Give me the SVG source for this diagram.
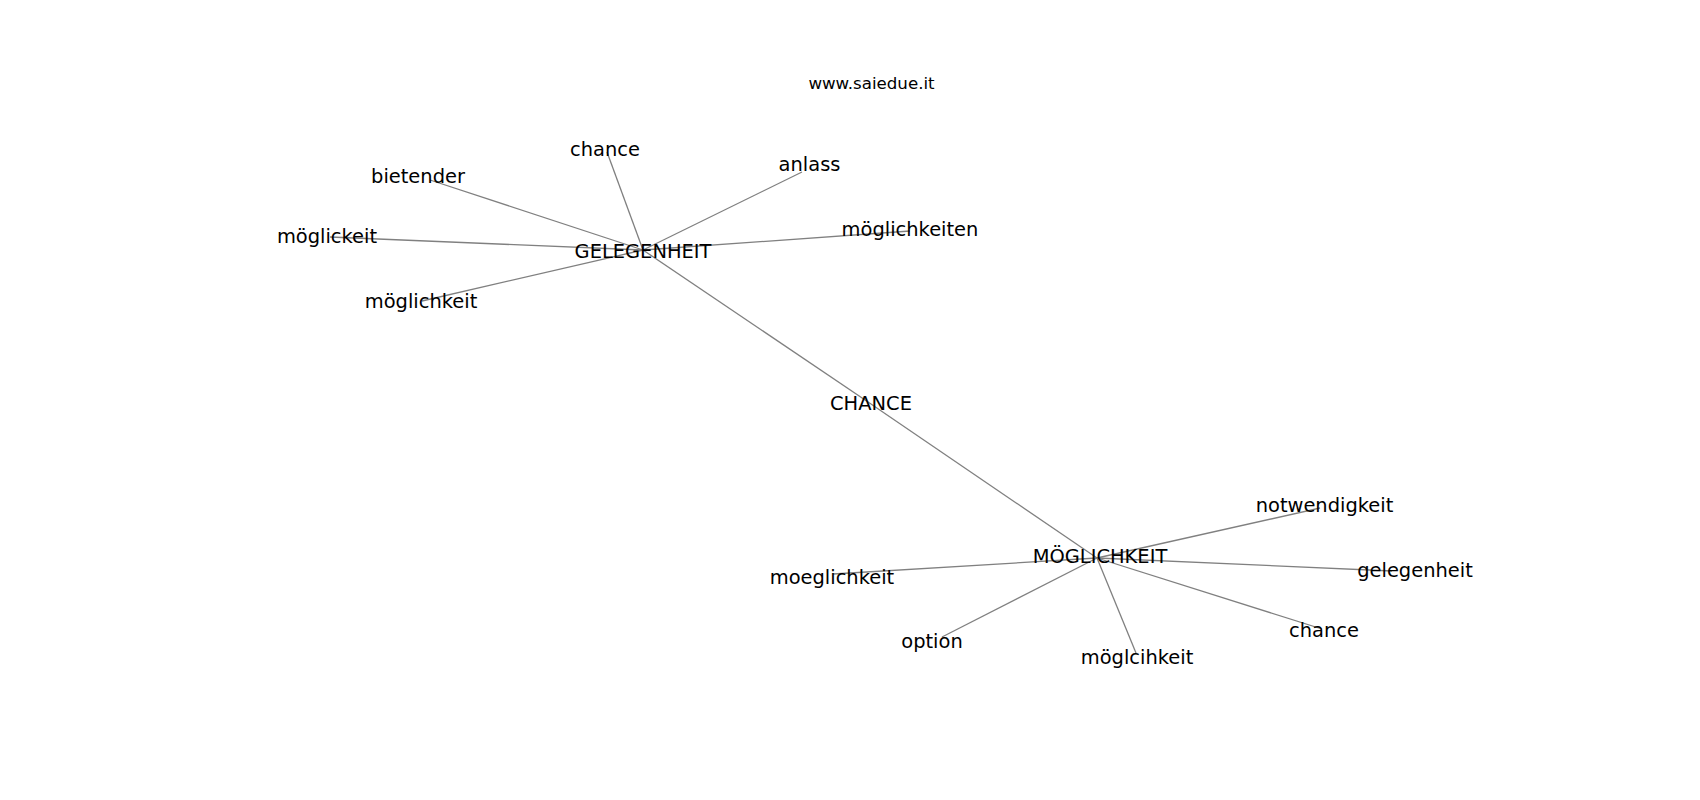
<svg xmlns="http://www.w3.org/2000/svg" width="1700" height="800" viewBox="0 0 1700 800">
<style>
.e{stroke:#808080;stroke-width:1.3;fill:none}
.t{font-family:"DejaVu Sans","Liberation Sans",sans-serif;font-size:19.44px;fill:#000;text-anchor:middle}
.title{font-family:"DejaVu Sans","Liberation Sans",sans-serif;font-size:16.67px;fill:#000;text-anchor:middle}
</style>
<rect width="1700" height="800" fill="#fff"/>
<text class="title" x="871.5" y="88.5">www.saiedue.it</text>
<g id="edges">
<line class="e" x1="871" y1="404" x2="643" y2="250"/>
<line class="e" x1="871" y1="404" x2="1097" y2="558"/>
<line class="e" x1="643" y1="250" x2="607" y2="152"/>
<line class="e" x1="643" y1="250" x2="430" y2="180"/>
<line class="e" x1="643" y1="250" x2="330" y2="237"/>
<line class="e" x1="643" y1="250" x2="422" y2="301"/>
<line class="e" x1="643" y1="250" x2="802" y2="172"/>
<line class="e" x1="643" y1="250" x2="910" y2="231"/>
<line class="e" x1="1097" y1="558" x2="1320" y2="508"/>
<line class="e" x1="1097" y1="558" x2="1392" y2="571"/>
<line class="e" x1="1097" y1="558" x2="1322" y2="629"/>
<line class="e" x1="1097" y1="558" x2="1136" y2="653"/>
<line class="e" x1="1097" y1="558" x2="942" y2="637"/>
<line class="e" x1="1097" y1="558" x2="833" y2="574"/>
</g>
<g id="n-chance-center"><text class="t" x="871" y="410">CHANCE</text></g>
<g id="n-gelegenheit-hub"><text class="t" x="643" y="258">GELEGENHEIT</text></g>
<g id="n-moeglichkeit-hub"><text class="t" x="1100" y="563">MÖGLICHKEIT</text></g>
<g id="n-chance1"><text class="t" x="605" y="156">chance</text></g>
<g id="n-bietender"><text class="t" x="418" y="183">bietender</text></g>
<g id="n-moeglickeit"><text class="t" x="327" y="243">möglickeit</text></g>
<g id="n-moeglichkeit1"><text class="t" x="421" y="308">möglichkeit</text></g>
<g id="n-anlass"><text class="t" x="809.5" y="171">anlass</text></g>
<g id="n-moeglichkeiten"><text class="t" x="910" y="236">möglichkeiten</text></g>
<g id="n-notwendigkeit"><text class="t" x="1324.5" y="512">notwendigkeit</text></g>
<g id="n-gelegenheit2"><text class="t" x="1415" y="577">gelegenheit</text></g>
<g id="n-chance2"><text class="t" x="1324" y="637">chance</text></g>
<g id="n-moeglcihkeit"><text class="t" x="1137" y="664">möglcihkeit</text></g>
<g id="n-option"><text class="t" x="932" y="648">option</text></g>
<g id="n-moeglichkeit2"><text class="t" x="832" y="584">moeglichkeit</text></g>
</svg>
